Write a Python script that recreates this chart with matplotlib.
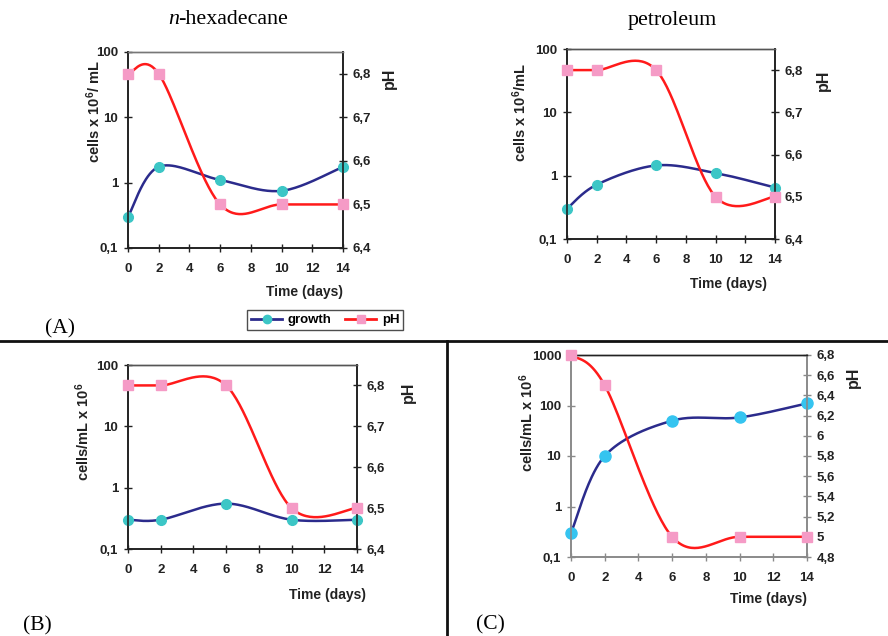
import numpy as np
import matplotlib
matplotlib.use("Agg")
import matplotlib.pyplot as plt
from matplotlib.lines import Line2D

plt.rcParams["font.family"] = ["Liberation Sans", "DejaVu Sans"]
plt.rcParams["font.weight"] = "bold"
plt.rcParams["mathtext.default"] = "regular"

# data
days = [0, 2, 6, 10, 14]

hex_growth = [0.3, 1.75, 1.1, 0.75, 1.75]
hex_ph = [6.8, 6.8, 6.5, 6.5, 6.5]

pet_growth = [0.3, 0.72, 1.45, 1.1, 0.65]
pet_ph = [6.8, 6.8, 6.8, 6.5, 6.5]

b_growth = [0.3, 0.3, 0.55, 0.3, 0.3]
b_ph = [6.8, 6.8, 6.8, 6.5, 6.5]

c_growth = [0.3, 10, 50, 58, 110]
c_ph = [6.8, 6.5, 5.0, 5.0, 5.0]

x_ticks = [0, 2, 4, 6, 8, 10, 12, 14]
ph_ticks_ab = [6.4, 6.5, 6.6, 6.7, 6.8]
ph_ticks_c = [4.8, 5.0, 5.2, 5.4, 5.6, 5.8, 6.0, 6.2, 6.4, 6.6, 6.8]

NAVY = "#2b2b8c"
TEAL = "#3cc6c6"
CYAN = "#35c4f0"
RED = "#ff1a1a"
PINK = "#f59bc6"

W, H = 888, 636


def smooth(x, y, log=False):
    # Excel-like smoothed line (cubic Bezier through the points)
    y = np.log10(y) if log else np.asarray(y, float)
    pts = np.column_stack([np.asarray(x, float), y])
    n = len(pts)
    t = np.linspace(0, 1, 40)[:, None]
    out = []
    for i in range(n - 1):
        p0 = pts[max(i - 1, 0)]
        p1 = pts[i]
        p2 = pts[i + 1]
        p3 = pts[min(i + 2, n - 1)]
        c1 = p1 + (p2 - p0) / 6
        c2 = p2 - (p3 - p1) / 6
        seg = (1 - t) ** 3 * p1 + 3 * (1 - t) ** 2 * t * c1 + 3 * (1 - t) * t ** 2 * c2 + t ** 3 * p2
        out.append(seg)
    out = np.vstack(out)
    yy = 10 ** out[:, 1] if log else out[:, 1]
    return out[:, 0], yy


def fmt(v):
    return ("%g" % v).replace(".", ",")


def px_axes(l, r, t, b):
    return fig.add_axes([l / W, 1 - b / H, (r - l) / W, (b - t) / H])


def panel(rect, growth, ph, ylims, yticks, phlims, phticks, mcol, spine_col, top_col, msize):
    ax = px_axes(*rect)
    ax.set_yscale("log")
    gx, gy = smooth(days, growth, log=True)
    ax.plot(gx, gy, color=NAVY, lw=1.8, zorder=3, clip_on=False)
    ax.plot(days, growth, "o", color=mcol, ms=msize, mec=mcol, zorder=4, clip_on=False)
    ax.set_xlim(0, 14)
    ax.set_ylim(*ylims)
    ax.set_xticks(x_ticks)
    ax.set_yticks(yticks)
    ax.set_yticklabels([fmt(v) for v in yticks])
    ax.yaxis.set_minor_locator(matplotlib.ticker.NullLocator())
    ax.tick_params(direction="inout", length=6, width=1, labelsize=9.5, colors="#222222",
                   pad=4)
    ax.tick_params(axis="x", pad=8)
    ax.tick_params(axis="both", color=spine_col)

    ax2 = ax.twinx()
    px, py = smooth(days, ph)
    ax2.plot(px, py, color=RED, lw=1.8, zorder=3, clip_on=False)
    ax2.plot(days, ph, "s", color=PINK, ms=6.5, mec=PINK, zorder=4, clip_on=False)
    ax2.set_ylim(*phlims)
    ax2.set_yticks(phticks)
    ax2.set_yticklabels([fmt(v) for v in phticks])
    ax2.tick_params(direction="inout", length=6, width=1, labelsize=9.5, colors="#222222",
                    pad=4)
    ax2.tick_params(axis="y", color=spine_col)
    for a in (ax, ax2):
        for s in ("left", "right", "bottom"):
            a.spines[s].set_color(spine_col)
            a.spines[s].set_linewidth(1.2)
        a.spines["top"].set_color(top_col)
        a.spines["top"].set_linewidth(1)
    return ax, ax2


fig = plt.figure(figsize=(W / 100, H / 100), dpi=100)

# (A) n-hexadecane
panel((128, 343, 52, 248), hex_growth, hex_ph, (0.1, 100), [0.1, 1, 10, 100],
      (6.4, 6.85), ph_ticks_ab, TEAL, "#222222", "#777777", 7)
# petroleum
panel((567, 775, 49, 239), pet_growth, pet_ph, (0.1, 100), [0.1, 1, 10, 100],
      (6.4, 6.85), ph_ticks_ab, TEAL, "#222222", "#555555", 7)
# (B)
panel((128, 357, 365, 549), b_growth, b_ph, (0.1, 100), [0.1, 1, 10, 100],
      (6.4, 6.85), ph_ticks_ab, TEAL, "#222222", "#555555", 7)
# (C)
panel((571, 807, 355, 557), c_growth, c_ph, (0.1, 1000), [0.1, 1, 10, 100, 1000],
      (4.8, 6.8), ph_ticks_c, CYAN, "#8a8a8a", "#222222", 8)


def ftext(x, y, s, **kw):
    fig.text(x / W, 1 - y / H, s, **kw)


# titles
ftext(168, 20, "n", family="Liberation Serif", style="italic", weight="normal",
      fontsize=15.8, ha="left", va="center")
ftext(178, 20, "-hexadecane", family="Liberation Serif", weight="normal",
      fontsize=15.8, ha="left", va="center")
ftext(672, 20, "petroleum", family="Liberation Serif", weight="normal",
      fontsize=15.8, ha="center", va="center")

# axis labels
lab = dict(fontsize=10, weight="bold", ha="center", va="center", color="#222222")
ftext(304, 292, "Time (days)", **lab)
ftext(728, 284, "Time (days)", **lab)
ftext(327, 595, "Time (days)", **lab)
ftext(768, 599, "Time (days)", **lab)

ylab = dict(lab, fontsize=10.5)
ftext(94, 112, "cells x 10$^6$/ mL", rotation=90, **ylab)
ftext(520, 113, "cells x 10$^6$/mL", rotation=90, **ylab)
ftext(83, 432, "cells/mL x 10$^6$", rotation=90, **ylab)
ftext(527, 423, "cells/mL x 10$^6$", rotation=90, **ylab)

phlab = dict(lab, fontsize=11.5)
ftext(389, 78, "pH", rotation=90, **phlab)
ftext(823, 80, "pH", rotation=90, **phlab)
ftext(408, 392, "pH", rotation=90, **phlab)
ftext(853, 377, "pH", rotation=90, **phlab)

# panel letters
plab = dict(family="Liberation Serif", weight="normal", fontsize=15.5,
            ha="center", va="center")
ftext(60, 329, "(A)", **plab)
ftext(37, 626, "(B)", **plab)
ftext(490, 625, "(C)", **plab)

# legend
handles = [
    Line2D([], [], color=NAVY, lw=2, marker="o", ms=6, mfc=TEAL, mec=TEAL, label="growth"),
    Line2D([], [], color=RED, lw=2, marker="s", ms=6, mfc=PINK, mec=PINK, label="pH"),
]
leg = fig.legend(handles=handles, loc="center", bbox_to_anchor=(325 / W, 1 - 320 / H),
                 ncol=2, frameon=True, fancybox=False, edgecolor="#222222",
                 prop={"weight": "bold", "size": 9.5}, handlelength=2.4,
                 handletextpad=0.4, columnspacing=1.0, borderpad=0.3,
                 borderaxespad=0)
leg.get_frame().set_linewidth(1)

# separator lines
fig.add_artist(Line2D([0, 1], [1 - 341 / H, 1 - 341 / H], transform=fig.transFigure,
                      color="#111111", lw=2))
fig.add_artist(Line2D([447 / W, 447 / W], [0, 1 - 341 / H], transform=fig.transFigure,
                      color="#111111", lw=2))

fig.savefig("out.png", dpi=100)
